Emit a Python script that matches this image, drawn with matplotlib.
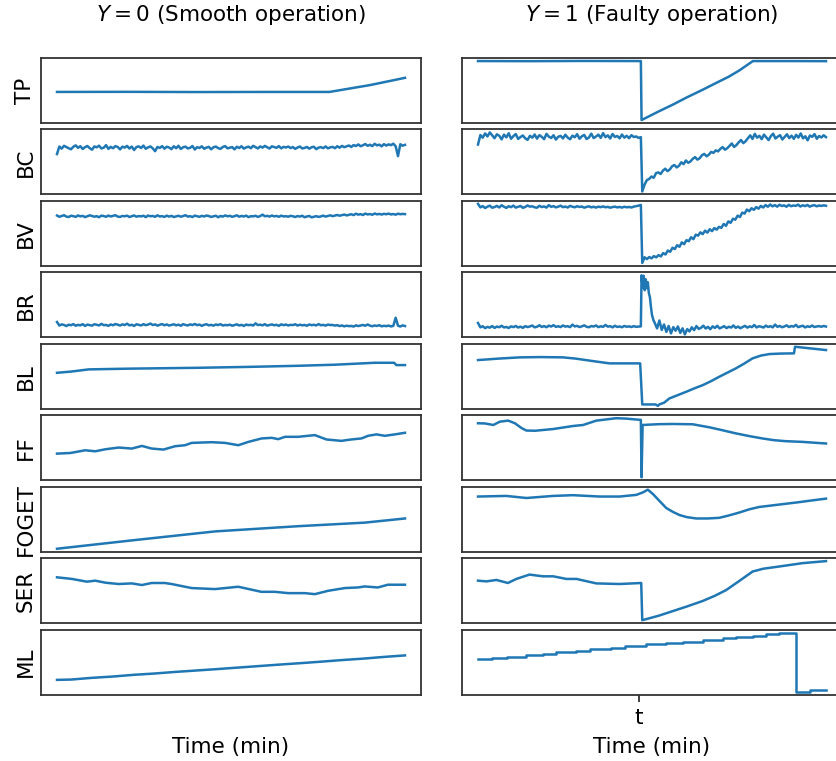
import numpy as np
import matplotlib
matplotlib.use("Agg")
import matplotlib.pyplot as plt

# ---------------- data ----------------
T_FAULT_END = 46.8   # last sample before fault
T_FAULT = 47.2       # first sample after fault
T_TICK = 46.2

variables = ["TP", "BC", "BV", "BR", "BL", "FF", "FOGET", "SER", "ML"]
col_titles = ["$Y=0$ (Smooth operation)", "$Y=1$ (Faulty operation)"]
x_label = "Time (min)"
fault_tick_label = "t"

# TP
tp_normal_t = [0, 20, 40, 60, 78.3, 90, 100]
tp_normal_v = [30.3, 30.4, 30.2, 30.3, 30.3, 37.0, 44.0]
tp_fault_t = [0, 15, 30, 46.8, 47.0, 52, 56, 60, 64.6, 69.3, 72, 75, 79, 90, 100]
tp_fault_v = [60.3, 60.2, 60.4, 60.3, 3.0, 11.5, 18.0, 25.0, 32.5, 40.5, 45.0, 51.0, 60.3, 60.3, 60.2]

# BC (uniform samples)
bc_normal = [38.5, 45.6, 43.6, 46.3, 45.1, 44.0, 43.0, 45.4, 46.7, 44.4, 45.9, 43.3, 45.0, 46.1,
             44.1, 42.6, 45.7, 44.9, 46.4, 43.8, 44.5, 46.9, 43.4, 45.3, 44.0, 46.0, 45.2, 42.9,
             45.5, 44.6, 46.2, 43.7, 45.6, 42.3, 45.1, 45.8, 44.2, 46.5, 43.5, 44.8, 45.7, 43.9,
             41.2, 45.2, 44.3, 46.0, 43.6, 45.4, 44.7, 43.1,
             45.9, 44.0, 46.3, 43.3, 44.9, 45.5, 43.8, 44.4, 46.1, 42.8, 45.0, 44.3, 45.8, 43.5,
             44.6, 45.3, 43.0, 44.9, 45.6, 44.1, 43.4, 45.2, 46.0, 43.9, 44.5, 45.1, 42.9, 45.4,
             44.2, 45.9, 43.6, 44.8, 45.5, 44.0, 46.3, 45.0, 43.8, 45.7, 44.6, 46.2, 44.9, 43.7,
             45.8, 45.1, 44.4, 46.0, 43.9, 45.3, 44.7, 45.6,
             44.2, 45.1, 43.4, 44.7, 45.6, 43.8, 44.3, 45.2, 43.6, 44.9, 45.4, 43.1, 44.6, 45.0,
             44.1, 45.7, 43.9, 44.8, 45.3, 44.0, 45.9, 44.5, 46.2, 45.0, 45.8, 46.6, 45.2, 47.0,
             46.1, 47.6, 45.9, 46.8, 48.0, 46.3, 47.3, 46.0, 48.2, 46.7, 47.4, 45.8, 47.9, 46.5,
             47.7, 46.9, 48.3, 45.9, 36.5, 47.8, 46.4, 47.2]
bc_fault_pre = [47.5, 56.5, 54.0, 58.0, 55.2, 59.0, 56.3, 53.5, 57.2, 55.8, 52.4, 56.9, 54.3,
                58.2, 53.0, 55.5, 57.4, 52.8, 54.6, 56.1, 53.4, 51.9, 55.8, 54.0, 57.0, 53.1,
                56.4, 54.8, 52.6, 57.6, 55.0, 53.7, 56.3, 52.2, 54.9, 55.7, 53.3, 56.8, 54.1,
                52.5, 55.9, 54.4, 57.3, 53.0, 55.3, 56.6, 52.7, 54.2, 57.8, 53.6, 55.1, 56.9,
                53.8, 58.3, 54.5, 56.2, 53.2, 57.5, 54.7, 55.6, 53.4, 57.0, 54.0, 55.8, 53.5,
                56.4, 54.6, 55.2, 53.8, 54.5]
bc_fault_post = [3.0, 9.5, 13.8, 14.9, 17.2, 16.0, 20.4, 21.1, 19.6, 22.8, 24.6, 22.3, 23.9,
                 26.9, 28.1, 25.8, 27.4, 30.7, 28.9, 32.4, 30.2, 31.5, 34.0, 35.6, 33.2, 34.5,
                 37.4, 38.6, 36.4, 37.9, 40.5, 39.6, 42.0, 41.0, 43.4, 45.1, 42.6, 44.0, 46.3,
                 48.5, 45.2, 47.0, 49.6, 51.8, 48.8, 50.6, 53.5, 56.2, 52.8, 57.6, 54.0, 55.8,
                 52.6, 56.9, 54.3, 51.7, 55.5, 57.8, 53.2, 55.0, 56.4, 52.3, 54.7, 57.2, 53.6,
                 55.9, 52.9, 56.7, 54.1, 58.0, 53.4, 55.3, 51.5, 56.1, 54.8, 57.4, 53.0, 55.6,
                 54.2, 56.3, 54.5]

# BV
bv_normal = [48.6, 47.4, 48.1, 48.9, 47.6, 47.2, 48.4, 48.0, 47.3, 48.7, 47.8, 48.3, 47.1, 47.9,
             48.8, 48.2, 47.5, 48.0, 47.0, 48.5, 48.1, 47.4, 48.6, 47.7, 48.3, 48.9, 47.6, 47.3,
             48.2, 47.9, 48.5, 47.2, 48.0, 48.7, 47.5, 48.1, 47.8, 48.4, 47.1, 48.6, 47.9, 48.2,
             47.4, 48.8, 47.7, 48.0, 47.3, 48.5, 47.6, 48.3,
             47.2, 47.8, 48.4, 47.5, 48.1, 48.9, 47.6, 48.0, 47.2, 48.5, 47.9, 47.4, 48.3, 47.7,
             48.6, 48.1, 47.3, 47.8, 48.4, 47.0, 48.2, 47.6, 48.7, 47.9, 48.3, 47.4, 48.0, 48.8,
             47.5, 48.2, 47.7, 48.5, 47.1, 48.0, 47.8, 48.4, 47.3, 48.1, 49.4, 47.9, 48.3, 47.6,
             48.6, 47.8, 48.2, 47.4, 48.5, 47.7, 48.0, 47.5,
             48.3, 47.9, 47.2, 48.1, 47.6, 48.4, 47.0, 47.7, 48.2, 46.9, 47.5, 48.0, 47.3, 47.8,
             48.5, 47.6, 48.2, 48.8, 48.0, 48.6, 49.1, 48.4, 48.9, 49.5, 48.7, 49.2, 49.8, 49.0,
             50.3, 49.4, 49.9, 49.1, 50.4, 49.6, 50.0, 49.3, 50.5, 49.7, 50.1, 49.5, 50.2, 49.8,
             50.4, 49.6, 50.0, 49.4, 50.3, 49.8, 50.1, 49.9]
bv_fault_pre = [59.5, 56.2, 57.4, 55.6, 56.9, 57.8, 55.9, 56.5, 57.6, 56.1, 58.2, 56.8, 55.7,
                57.3, 56.4, 57.9, 56.0, 56.7, 57.5, 55.8, 56.6, 58.0, 56.9, 57.2, 56.3, 55.9,
                57.7, 56.5, 57.1, 56.0, 58.3, 56.7, 57.4, 56.2, 56.9, 57.8, 56.4, 57.0, 56.1,
                57.6, 56.8, 56.3, 57.3, 56.6, 57.0, 55.9, 56.7, 57.2, 56.2, 56.8, 56.0, 56.9,
                56.4, 57.1, 56.3, 56.7, 55.9, 56.5, 56.9, 56.2, 56.6, 56.0, 56.8, 56.3, 56.6,
                56.1, 56.9, 57.3, 57.8, 58.5]
bv_fault_post = [4.3, 9.6, 7.9, 9.8, 8.6, 10.7, 9.5, 11.6, 10.4, 13.5, 12.2, 15.9, 14.7, 18.5,
                 17.3, 20.9, 19.4, 23.5, 21.8, 25.6, 24.6, 28.3, 26.5, 30.7, 29.8, 32.9, 31.2,
                 34.5, 32.6, 35.8, 34.0, 36.9, 35.4, 38.0, 37.1, 40.7, 39.0, 43.1, 41.8, 45.6,
                 44.7, 48.5, 47.2, 51.3, 50.4, 54.2, 52.6, 55.4, 53.9, 56.5, 55.0, 57.6, 56.1,
                 58.4, 56.8, 58.9, 57.2, 58.3, 56.9, 58.7, 57.5, 58.1, 56.8, 58.6, 57.3, 58.0,
                 57.6, 58.8, 57.0, 58.2, 57.4, 58.5, 56.9, 57.8, 58.3, 57.2, 58.0, 57.6, 58.1, 57.7]

# BR
br_normal = [15.0, 11.4, 12.6, 12.0, 10.9, 12.3, 11.7, 12.9, 11.2, 12.1, 11.6, 12.8, 11.0, 12.4,
             11.9, 11.3, 12.7, 12.2, 11.5, 13.1, 11.8, 12.0, 11.1, 12.5, 11.7, 12.9, 12.3, 11.4,
             12.6, 11.9, 13.3, 11.6, 12.2, 11.0, 12.7, 12.1, 11.5, 12.8, 11.8, 12.4, 13.4, 11.9,
             12.6, 11.3, 12.2, 12.9, 11.7, 12.5, 11.4, 12.0,
             12.7, 11.6, 12.3, 11.2, 12.8, 12.0, 11.5, 12.6, 11.9, 13.0, 11.8, 12.4, 11.1, 12.2,
             12.7, 11.6, 12.1, 11.3, 12.5, 11.9, 12.8, 11.4, 12.0, 11.7, 12.3, 11.2, 11.9, 12.6,
             11.5, 12.1, 11.0, 12.4, 11.8, 12.2, 11.4, 13.6, 11.9, 12.3, 11.6, 12.8, 11.3, 12.0,
             12.5, 11.7, 12.2, 11.1, 12.6, 11.8, 12.4, 11.5,
             12.1, 11.9, 12.7, 11.4, 12.3, 11.6, 12.0, 11.2, 12.5, 11.8, 12.2, 11.5, 12.9, 11.7,
             12.1, 11.3, 12.4, 11.9, 12.0, 11.4, 11.8, 10.9, 11.5, 10.6, 11.3, 10.8, 11.0, 10.4,
             11.6, 10.9, 11.4, 12.0, 11.2, 12.5, 11.3, 10.7, 11.5, 11.0, 11.8, 10.6, 11.2, 10.8,
             11.4, 10.5, 11.1, 19.3, 11.3, 10.4, 11.6, 10.9]
br_fault_pre = [14.0, 9.6, 10.7, 8.8, 10.1, 9.3, 10.9, 9.0, 10.4, 9.7, 11.2, 9.5, 10.0, 8.9,
                10.6, 9.8, 11.0, 9.4, 10.3, 9.1, 10.8, 9.9, 10.5, 11.4, 9.6, 10.2, 11.7, 10.0,
                10.9, 9.7, 11.3, 10.4, 11.8, 10.1, 10.7, 9.9, 11.5, 10.3, 10.8, 9.8, 12.3, 10.5,
                11.1, 9.9, 10.6, 11.6, 10.2, 9.7, 10.9, 10.4, 11.5, 9.8, 10.7, 10.1, 12.0, 10.3,
                10.8, 9.6, 11.2, 10.0, 10.5, 9.7, 11.0, 10.2, 10.6, 9.9, 10.8, 10.1, 10.4, 10.6]
br_spike_t = [47.0, 47.3, 47.6, 47.9, 48.2, 48.5, 48.8, 49.1, 49.4, 49.7, 50.0, 50.4]
br_spike_v = [62.0, 50.0, 61.5, 47.0, 58.0, 49.0, 55.0, 44.0, 40.0, 30.0, 22.0, 17.0]
br_fault_post = [14.0, 8.5, 16.5, 7.0, 12.5, 5.0, 11.0, 3.5, 9.8, 6.2, 10.5, 4.0, 8.6, 2.5,
                 7.8, 5.5, 9.6, 6.8, 10.9, 8.0, 9.2, 11.3, 8.4, 10.1, 7.7, 10.6, 9.0, 11.2, 8.5,
                 9.7, 10.8, 8.8, 10.2, 9.4, 11.5, 9.1, 10.4, 8.7, 10.0, 11.1, 9.3, 10.6, 9.8,
                 12.0, 9.5, 10.7, 10.2, 9.4, 11.3, 10.0, 10.8, 9.6, 12.4, 10.1, 11.0, 9.7, 10.5,
                 11.6, 9.9, 10.9, 10.3, 12.1, 9.8, 10.6, 11.2, 9.5, 10.7, 10.0, 11.4, 9.9, 10.5,
                 10.8, 10.2, 11.0, 10.4]

# BL
bl_normal_t = [0, 4, 9.1, 20, 40.6, 55, 69.3, 80, 91.2, 96.9, 97.5, 100]
bl_normal_v = [35.3, 36.5, 38.7, 39.4, 40.3, 41.2, 42.3, 43.4, 45.3, 45.3, 43.0, 43.0]
bl_fault_t = [0, 6, 12, 18, 24.4, 28, 33, 37.8, 46.6, 47.2, 51.0, 51.7, 52.1, 53.5, 55.0, 57.4,
              59.8, 62.2, 64.6, 67.0, 69.3, 71.7, 74.1, 76.5, 78.9, 81.3, 83.7, 87.0, 90.8, 91.1,
              100]
bl_fault_v = [48.0, 49.5, 50.7, 51.0, 50.7, 49.5, 47.0, 44.7, 44.7, 3.7, 3.7, 2.3, 3.7, 5.5, 9.7,
              13.0, 16.3, 19.8, 23.0, 27.0, 31.3, 35.5, 39.7, 44.5, 49.7, 52.5, 54.0, 54.5, 54.7,
              61.3, 58.0]

# FF
ff_normal_t = [0, 3.8, 8.1, 11, 13.9, 17.7, 21.5, 24.4, 27.2, 30.6, 33.9, 36.8, 38.7, 44.4,
               48.3, 52.1, 55, 58.8, 61.7, 63.6, 65.5, 69.3, 74.1, 77.4, 81.7, 84.6, 87.5, 89.4,
               91.8, 94.2, 97.1, 100]
ff_normal_v = [26.7, 27.3, 30.0, 29.0, 31.0, 32.7, 31.7, 34.3, 31.7, 30.7, 34.0, 35.0, 37.3,
               38.0, 37.3, 35.0, 38.3, 41.7, 42.3, 41.0, 43.3, 43.3, 45.0, 40.7, 39.3, 40.7,
               41.7, 44.3, 45.7, 44.3, 45.7, 47.3]
ff_fault_t = [0, 2, 4.4, 6.3, 8.7, 10.6, 12.5, 13.9, 16.4, 21.6, 27.3, 30.2, 34, 39.7, 42.6,
              46.8, 47.0, 47.3, 52, 56, 61.7, 66.5, 70, 74.1, 78, 81.7, 85, 88.4, 93.2, 100]
ff_fault_v = [56.7, 56.5, 55.0, 58.3, 59.3, 56.7, 52.0, 49.5, 49.3, 51.0, 54.0, 55.0, 59.3,
              61.7, 61.3, 60.0, 3.3, 55.0, 55.8, 56.0, 55.7, 52.7, 50.0, 46.7, 44.0, 41.7, 40.0,
              39.0, 38.3, 36.7]

# FOGET
foget_normal_t = [0, 21.5, 45.4, 69.3, 88.4, 100]
foget_normal_v = [4.7, 12.7, 21.3, 26.3, 29.7, 33.7]
foget_fault_t = [0, 8.1, 13.9, 21.6, 27.3, 35, 40.7, 45.5, 47.4, 48.8, 50.3, 52, 54.1, 56,
                 57.9, 60, 62.7, 66, 69.3, 72, 75, 78, 80.8, 86.5, 92.2, 96, 100]
foget_fault_v = [54.7, 55.3, 53.3, 55.3, 56.0, 54.7, 54.7, 56.3, 58.7, 61.3, 57.0, 51.0, 43.7,
                 40.0, 37.0, 35.0, 33.7, 33.7, 34.3, 36.5, 39.3, 42.5, 44.7, 47.0, 49.3, 51.0,
                 52.7]

# SER
ser_normal_t = [0, 4.3, 8.6, 11, 13.9, 17.7, 21.5, 24.4, 27.2, 31, 32.9, 38.7, 45.4, 52.1, 58.7,
                62.6, 66.4, 71.2, 74.1, 77.9, 82.7, 86.5, 88.4, 92.2, 95.1, 100]
ser_normal_v = [45.3, 43.7, 41.0, 42.0, 40.0, 38.7, 39.3, 37.7, 39.7, 39.7, 38.7, 34.7, 33.7,
                36.0, 31.0, 31.0, 29.7, 29.7, 28.7, 32.0, 34.7, 35.3, 36.3, 35.3, 38.0, 38.0]
ser_fault_t = [0, 2.4, 5.3, 8.6, 11, 14.8, 18.6, 21.6, 25.4, 28.3, 34, 40.7, 46.9, 47.2, 52, 56,
               60, 64.6, 68, 71.3, 75, 78.9, 82, 86.6, 93.3, 100]
ser_fault_v = [42.0, 41.3, 42.7, 39.7, 43.7, 48.0, 46.3, 46.3, 43.7, 43.7, 39.3, 38.7, 39.7,
               3.0, 7.5, 12.0, 16.5, 22.0, 27.0, 32.7, 41.5, 51.0, 53.8, 56.0, 59.3, 61.3]

# ML
ml_normal_t = [0, 4, 10, 16, 22, 28, 34, 40, 46, 52, 58, 64, 70, 76, 82, 88, 94, 100]
ml_normal_v = [14.7, 15.0, 16.7, 18.0, 19.7, 21.0, 22.6, 24.0, 25.4, 26.9, 28.4, 29.9, 31.3,
               32.8, 34.4, 35.8, 37.5, 39.0]
ml_fault_t = [0, 3.9, 8.2, 13.9, 18.7, 22.5, 28.3, 32.1, 38.3, 42.1, 48.3, 54.1, 58.8, 64.6,
              70.3, 74.1, 78.9, 82.7, 86.5, 91.5, 95.5, 100]
ml_fault_v = [35.0, 36.4, 37.9, 39.5, 40.8, 42.4, 43.8, 45.5, 46.8, 48.3, 49.9, 51.2, 52.8,
              54.2, 55.8, 57.1, 58.7, 60.1, 61.7, 3.0, 5.0, 5.0]


def uniform(vals, a, b):
    return np.linspace(a, b, len(vals))


series = {
    "TP": ((tp_normal_t, tp_normal_v), (tp_fault_t, tp_fault_v)),
    "BC": ((uniform(bc_normal, 0, 100), bc_normal),
           (np.concatenate([uniform(bc_fault_pre, 0, T_FAULT_END), uniform(bc_fault_post, T_FAULT, 100)]),
            bc_fault_pre + bc_fault_post)),
    "BV": ((uniform(bv_normal, 0, 100), bv_normal),
           (np.concatenate([uniform(bv_fault_pre, 0, T_FAULT_END), uniform(bv_fault_post, T_FAULT, 100)]),
            bv_fault_pre + bv_fault_post)),
    "BR": ((uniform(br_normal, 0, 100), br_normal),
           (np.concatenate([uniform(br_fault_pre, 0, T_FAULT_END), br_spike_t, uniform(br_fault_post, 50.8, 100)]),
            br_fault_pre + br_spike_v + br_fault_post)),
    "BL": ((bl_normal_t, bl_normal_v), (bl_fault_t, bl_fault_v)),
    "FF": ((ff_normal_t, ff_normal_v), (ff_fault_t, ff_fault_v)),
    "FOGET": ((foget_normal_t, foget_normal_v), (foget_fault_t, foget_fault_v)),
    "SER": ((ser_normal_t, ser_normal_v), (ser_fault_t, ser_fault_v)),
    "ML": ((ml_normal_t, ml_normal_v), (ml_fault_t, ml_fault_v)),
}

# ---------------- figure ----------------
W, H = 836, 761
fig = plt.figure(figsize=(W / 100, H / 100), dpi=100)
plt.rcParams["font.family"] = ["DejaVu Sans"]

LINE_COLOR = "#1f77b4"
SPINE_COLOR = "#333333"
FS = 15.5

col_x = [41, 462]
ax_w = 380
row_top0 = 58
row_step = 71.45
row_h = 65

axes = []
for i, var in enumerate(variables):
    top = row_top0 + i * row_step
    row_axes = []
    for j in range(2):
        ax = fig.add_axes([col_x[j] / W, 1 - (top + row_h) / H, ax_w / W, row_h / H])
        if j == 1:
            ax.sharey(row_axes[0])
        t, v = series[var][j]
        if var == "ML" and j == 1:
            ax.step(t, v, where="post", color=LINE_COLOR, lw=1.8)
        else:
            ax.plot(t, v, color=LINE_COLOR, lw=1.8)
        ax.set_xlim(-4.6, 104.6)
        ax.set_yticks([])
        ax.set_xticks([])
        for s in ax.spines.values():
            s.set_color(SPINE_COLOR)
            s.set_linewidth(1.3)
        row_axes.append(ax)
    row_axes[0].set_ylabel(var, fontsize=FS, labelpad=4)
    axes.append(row_axes)

axes[0][0].set_title(col_titles[0], fontsize=FS, pad=27)
axes[0][1].set_title(col_titles[1], fontsize=FS, pad=27)

for j in range(2):
    ax = axes[-1][j]
    ax.set_xticks([T_TICK])
    ax.set_xticklabels([fault_tick_label], fontsize=FS)
    ax.tick_params(axis="x", length=5, width=1.3, pad=5, color=SPINE_COLOR)
    if j == 0:
        ax.tick_params(axis="x", colors="none")
    ax.set_xlabel(x_label, fontsize=FS, labelpad=6)

fig.savefig("out.png", dpi=100)
